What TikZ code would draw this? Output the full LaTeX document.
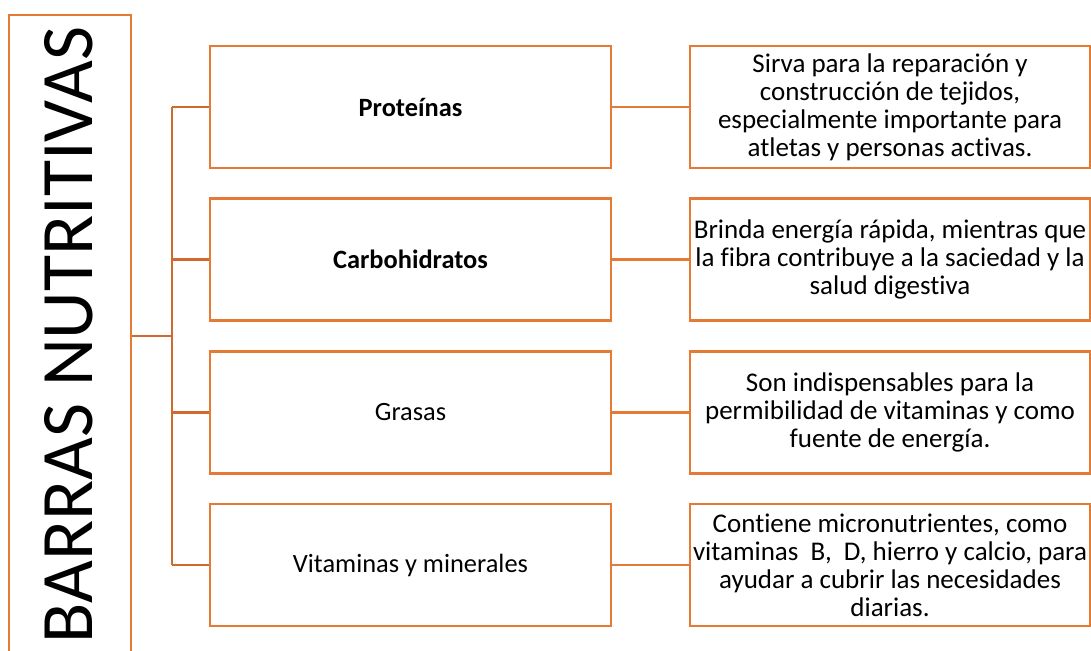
\documentclass[tikz,border=0pt]{standalone}
\usepackage{fontspec}
\setmainfont{Carlito}[Ligatures={NoCommon,NoContextual}]
\definecolor{boxor}{HTML}{E57A35}
\definecolor{lineor}{HTML}{CF6A2C}
\begin{document}
\begin{tikzpicture}[x=1pt,y=-1pt,
  box/.style={draw=boxor,line width=2.6pt,rectangle,inner sep=2pt,align=center},
  midbox/.style={box,minimum width=401pt,minimum height=122pt,font=\fontsize{26.4}{30}\selectfont},
  descbox/.style={box,minimum width=400pt,minimum height=122pt,font=\fontsize{27}{28}\selectfont},
  link/.style={draw=lineor,line width=2.6pt}]
\useasboundingbox (0,0) rectangle (1091,650);
\clip (0,0) rectangle (1091,650);
\fill[white] (0,0) rectangle (1091,650);
\node[box,rotate=90,minimum width=640pt,minimum height=122pt,font=\fontsize{74}{80}\selectfont] (title) at (70,335) {\raisebox{3pt}{BARRAS NUTRITIVAS}};
\node[midbox] (m1) at (410.5,107) {\textbf{Proteínas}};
\node[midbox] (m2) at (410.5,259.5) {\textbf{Carbohidratos}};
\node[midbox] (m3) at (410.5,412.5) {Grasas};
\node[midbox] (m4) at (410.5,565) {Vitaminas y minerales};
\node[descbox] (d1) at (890,107) {Sirva para la reparación y\\construcción de tejidos,\\especialmente importante para\\atletas y personas activas.};
\node[descbox] (d2) at (890,259.5) {Brinda energía rápida, mientras que\\la fibra contribuye a la saciedad y la\\salud digestiva};
\node[descbox] (d3) at (890,412.5) {Son indispensables para la\\permibilidad de vitaminas y como\\fuente de energía.};
\node[descbox] (d4) at (890,565) {Contiene micronutrientes, como\\vitaminas~~B,~~D, hierro y calcio, para\\ayudar a cubrir las necesidades\\diarias.};
\coordinate (j) at (172,336);
\draw[link] (title.south |- j) -- (j);
\draw[link] (j |- m1.west) -- (j |- m4.west);
\foreach \i in {1,2,3,4}{
  \draw[link] (j |- m\i.west) -- (m\i.west);
  \draw[link,draw=boxor] (m\i.east) -- (d\i.west);
}
\end{tikzpicture}
\end{document}
